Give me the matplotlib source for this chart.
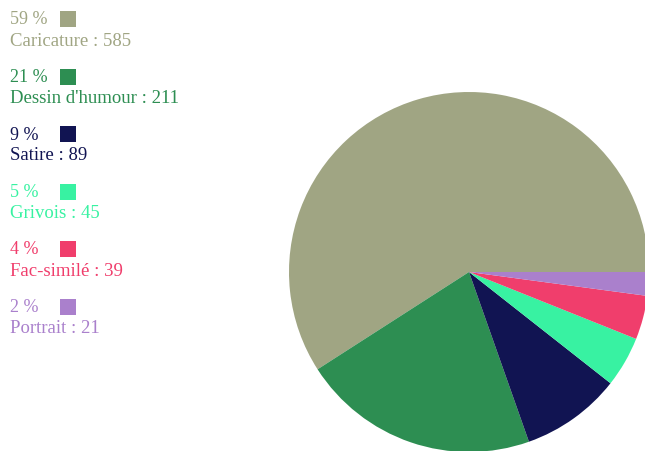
import matplotlib.pyplot as plt
from matplotlib.patches import Rectangle

plt.rcParams['font.family'] = ['Liberation Serif', 'DejaVu Serif']

categories = ['Caricature', "Dessin d'humour", 'Satire', 'Grivois', 'Fac-similé', 'Portrait']
values = [585, 211, 89, 45, 39, 21]
colors = ['#a0a583', '#2d8e52', '#111452', '#38f2a2', '#f03e6c', '#aa80cc']

W, H = 645, 452
fig = plt.figure(figsize=(W / 100, H / 100), dpi=100)
ax = fig.add_axes([0, 0, 1, 1])

# pie drawn in pixel coordinates, starting east and going anticlockwise
ax.pie(values, colors=colors, center=(469, H - 273), radius=180,
       startangle=0, counterclock=True, frame=True,
       wedgeprops=dict(linewidth=0))

total = sum(values)
row_gap = 57.5
for i, (name, val, col) in enumerate(zip(categories, values, colors)):
    y0 = 20 + i * row_gap
    pct = round(val / total * 100)
    ax.text(10, H - y0, '%d %%' % pct, color=col, fontsize=13,
            ha='left', va='center')
    ax.add_patch(Rectangle((60, H - y0 - 8), 16, 16, facecolor=col,
                           edgecolor='none'))
    ax.text(10, H - y0 - 21, '%s : %d' % (name, val), color=col,
            fontsize=13.5, ha='left', va='center')

ax.set_xlim(0, W)
ax.set_ylim(0, H)
ax.set_aspect('equal')
ax.axis('off')

fig.savefig('out.png', dpi=100)
